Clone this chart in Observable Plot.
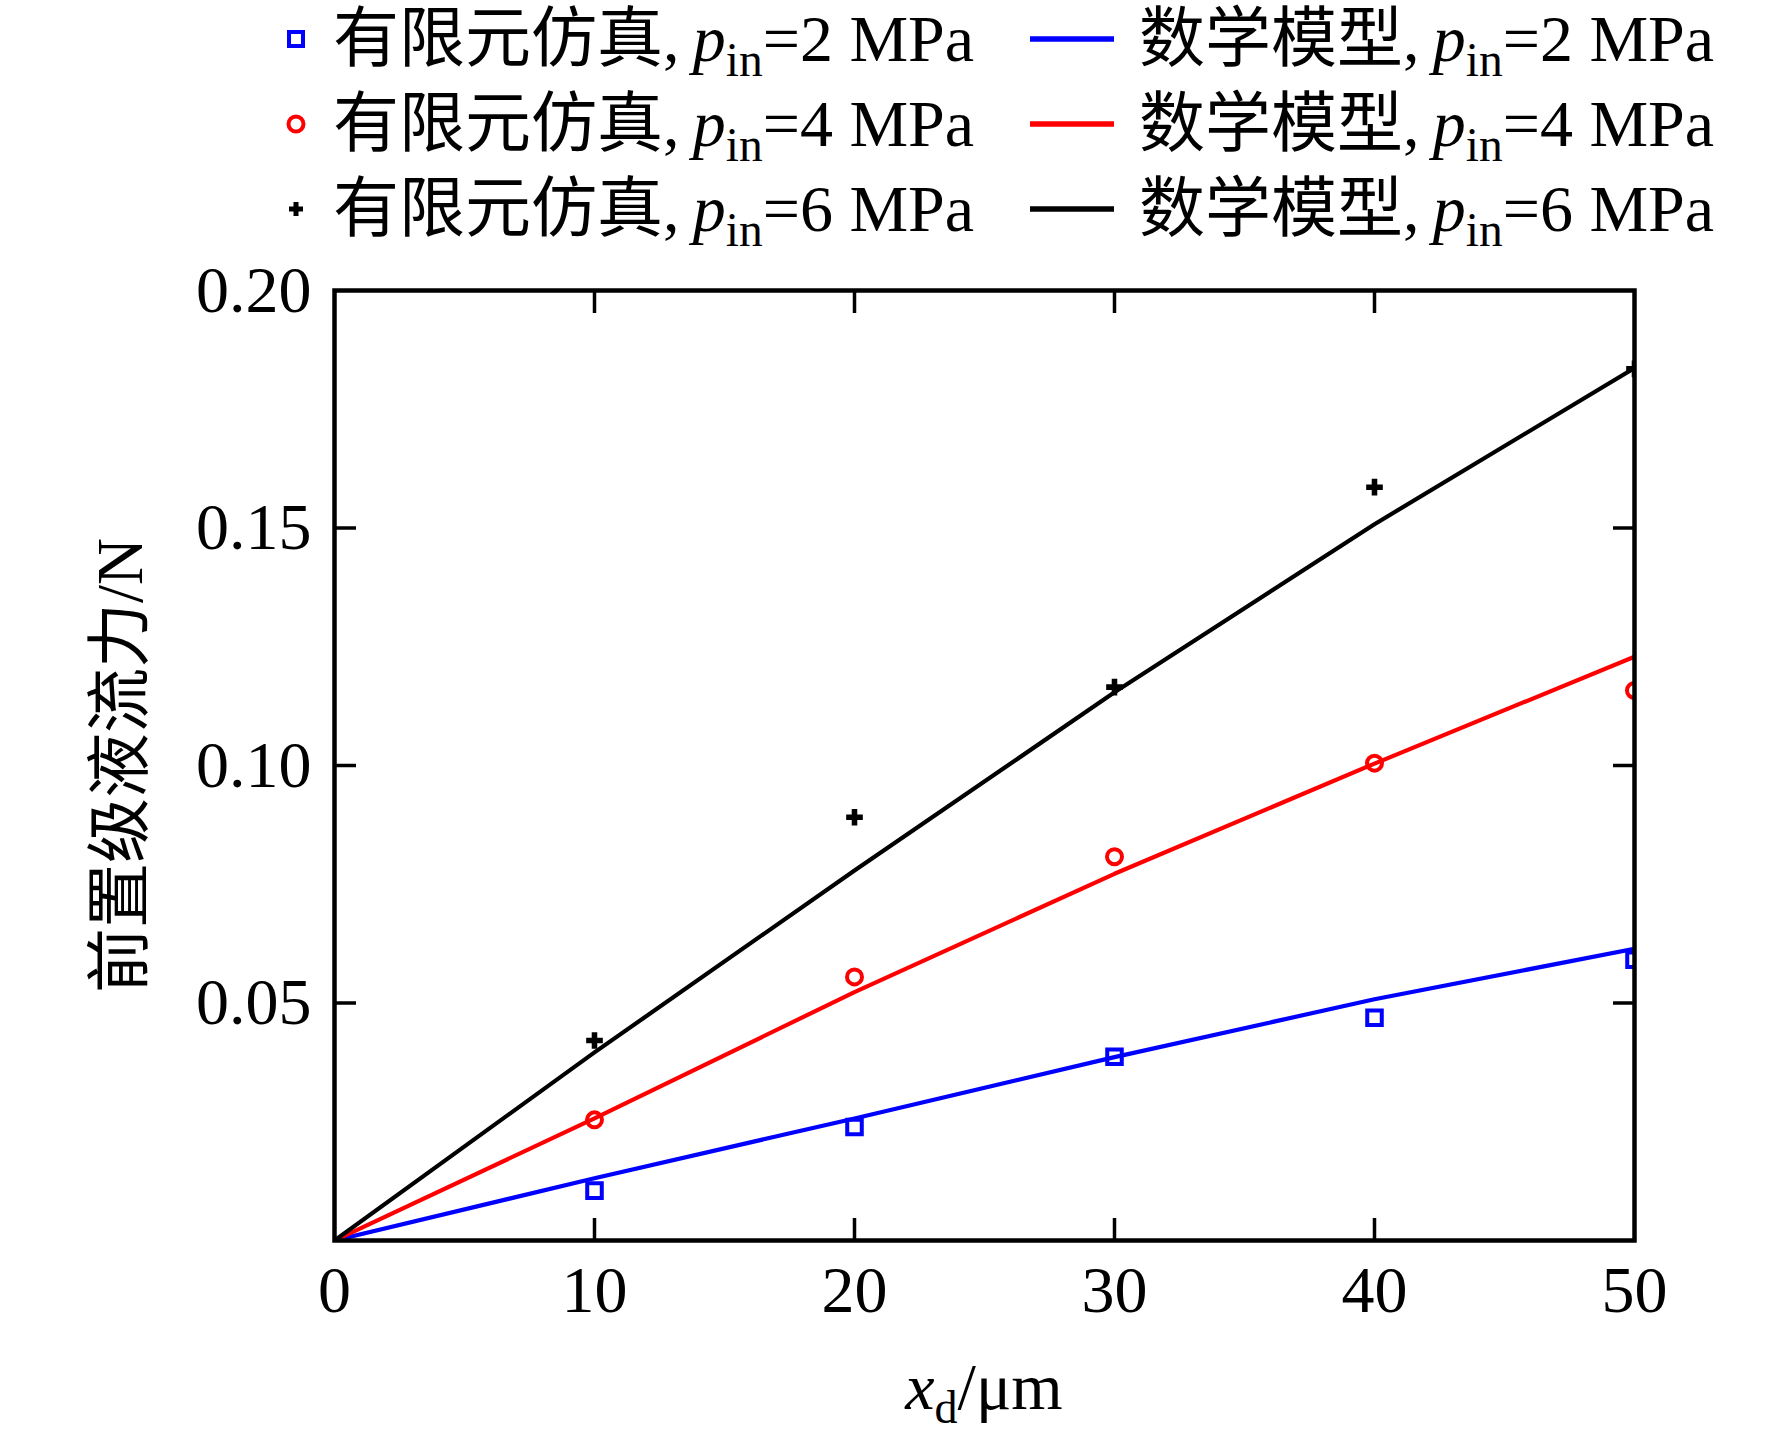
<!DOCTYPE html>
<html><head><meta charset="utf-8">
<script src="https://cdn.jsdelivr.net/npm/d3@7"></script>
<script src="https://cdn.jsdelivr.net/npm/@observablehq/plot@0.6"></script>
<style>
body{margin:0;background:#fff;}
#wrap{position:relative;width:1772px;height:1441px;overflow:hidden;background:#fff;}
#legend{position:relative;width:1772px;height:250px;font-family:"Liberation Serif","Noto Sans CJK SC",serif;font-size:66px;color:#000;}
.row{position:absolute;height:76px;line-height:76px;white-space:nowrap;}
.sub{font-size:0.72em;position:relative;top:0.32em;}
.sw{position:absolute;overflow:visible;}
</style></head><body>
<div id="wrap"><div id="legend"></div><div id="chart"></div></div>
<script>
// ---- data ----
const xFE = [10, 20, 30, 40, 50];
const fe2 = [0.0105, 0.0239, 0.0387, 0.0469, 0.0591];
const fe4 = [0.0254, 0.0555, 0.0808, 0.1005, 0.1158];
const fe6 = [0.0421, 0.0891, 0.1165, 0.1586, 0.1835];
const xModel = [0, 10, 20, 30, 40, 50];
const model2 = [0, 0.0131, 0.0257, 0.0386, 0.0508, 0.0614];
const model4 = [0, 0.0257, 0.0523, 0.0772, 0.1004, 0.1229];
const model6 = [0, 0.0396, 0.0779, 0.1154, 0.1508, 0.1837];
const pressures = [2, 4, 6];
const feName = "有限元仿真";
const modelName = "数学模型";
const xTickValues = [0, 10, 20, 30, 40, 50];
const xInnerTicks = [10, 20, 30, 40];
const yTickValues = [0.05, 0.10, 0.15, 0.20];
const yInnerTicks = [0.05, 0.10, 0.15];
const yLabel = "前置级液流力/N";

const colors = ["#0000ff", "#ff0000", "#000000"];
const symbols = ["square", "circle", "cross"];
const feSets = [fe2, fe4, fe6];
const modelSets = [model2, model4, model6];
const font = "'Liberation Serif','Times New Roman','Noto Sans CJK SC',serif";

// ---- legend ----
const legend = document.getElementById("legend");
const rowCenters = [39, 124, 209];
pressures.forEach((p, i) => {
  const cy = rowCenters[i];
  const sw = document.createElementNS("http://www.w3.org/2000/svg", "svg");
  sw.setAttribute("class", "sw");
  sw.setAttribute("width", 30); sw.setAttribute("height", 30);
  sw.style.left = (296 - 15) + "px"; sw.style.top = (cy - 15) + "px";
  let shape;
  if (symbols[i] === "square") {
    shape = `<rect x="8" y="8" width="14" height="14" fill="none" stroke="${colors[i]}" stroke-width="4"/>`;
  } else if (symbols[i] === "circle") {
    shape = `<circle cx="15" cy="15" r="7.5" fill="none" stroke="${colors[i]}" stroke-width="4"/>`;
  } else {
    shape = `<path d="M12.5,8h5v4.5h4.5v5h-4.5v4.5h-5v-4.5h-4.5v-5h4.5z" fill="${colors[i]}"/>`;
  }
  sw.innerHTML = shape;
  legend.appendChild(sw);
  const t1 = document.createElement("div");
  t1.className = "row";
  t1.style.left = "333px"; t1.style.top = (cy - 38) + "px";
  t1.innerHTML = `${feName},\u2009<i>p</i><span class="sub">in</span>=${p} MPa`;
  legend.appendChild(t1);
  const ln = document.createElementNS("http://www.w3.org/2000/svg", "svg");
  ln.setAttribute("class", "sw");
  ln.setAttribute("width", 84); ln.setAttribute("height", 10);
  ln.style.left = "1030px"; ln.style.top = (cy - 5) + "px";
  ln.innerHTML = `<line x1="0" y1="5" x2="84" y2="5" stroke="${colors[i]}" stroke-width="5.5"/>`;
  legend.appendChild(ln);
  const t2 = document.createElement("div");
  t2.className = "row";
  t2.style.left = "1139px"; t2.style.top = (cy - 38) + "px";
  t2.innerHTML = `${modelName},\u2009<i>p</i><span class="sub">in</span>=${p} MPa`;
  legend.appendChild(t2);
});

// ---- chart ----
const marks = [];
pressures.forEach((p, i) => {
  const rows = xModel.map((x, j) => ({x, y: modelSets[i][j]}));
  marks.push(Plot.line(rows, {x: "x", y: "y", stroke: colors[i], strokeWidth: 4.2, clip: true}));
});
pressures.forEach((p, i) => {
  const rows = xFE.map((x, j) => ({x, y: feSets[i][j]}));
  if (symbols[i] === "cross") {
    marks.push(Plot.dot(rows, {x: "x", y: "y", symbol: "cross", r: 7, fill: colors[i], stroke: "none", clip: true}));
  } else if (symbols[i] === "square") {
    marks.push(Plot.dot(rows, {x: "x", y: "y", symbol: "square", r: 8.2, fill: "none", stroke: colors[i], strokeWidth: 4, clip: true}));
  } else {
    marks.push(Plot.dot(rows, {x: "x", y: "y", symbol: "circle", r: 7.5, fill: "none", stroke: colors[i], strokeWidth: 4, clip: true}));
  }
});

const plot = Plot.plot({
  width: 1772,
  height: 1191,
  marginTop: 40,
  marginBottom: 201,
  marginLeft: 334,
  marginRight: 138,
  x: {domain: [0, 50]},
  y: {domain: [0, 0.2]},
  style: {fontFamily: font, background: "white", color: "black", overflow: "visible"},
  marks: [
    ...marks,
    Plot.axisX(xTickValues, {anchor: "bottom", tickSize: 0, tickPadding: 25, fontSize: 66, label: null}),
    Plot.axisX(xInnerTicks, {anchor: "bottom", tickSize: -22, strokeWidth: 3.5, fill: "none"}),
    Plot.axisX(xInnerTicks, {anchor: "top", tickSize: -22, strokeWidth: 3.5, fill: "none"}),
    Plot.axisY(yTickValues, {anchor: "left", tickSize: 0, tickPadding: 23, fontSize: 66, tickFormat: d => d.toFixed(2), label: null}),
    Plot.axisY(yInnerTicks, {anchor: "left", tickSize: -22, strokeWidth: 3.5, fill: "none"}),
    Plot.axisY(yInnerTicks, {anchor: "right", tickSize: -22, strokeWidth: 3.5, fill: "none"}),
    Plot.frame({stroke: "black", strokeWidth: 4.5}),
    Plot.text([yLabel], {text: d => d, frameAnchor: "left", dx: -213, rotate: -90, lineAnchor: "middle", textAnchor: "middle", fontSize: 65, fontFamily: font})
  ]
});
document.getElementById("chart").appendChild(plot);

// x-axis label with subscript, positioned from the scales
const svg = plot.tagName.toLowerCase() === "svg" ? plot : plot.querySelector("svg");
const sx = plot.scale("x"), sy = plot.scale("y");
const xl = d3.select(svg).append("text")
  .attr("x", sx.apply(25)).attr("y", sy.apply(0) + 169)
  .attr("text-anchor", "middle").attr("font-size", 66).attr("font-family", font).attr("fill", "black");
xl.append("tspan").attr("font-style", "italic").text("x");
xl.append("tspan").attr("font-size", 46).attr("dy", 14).text("d");
xl.append("tspan").attr("dy", -14).text("/μm");
</script>
</body></html>
